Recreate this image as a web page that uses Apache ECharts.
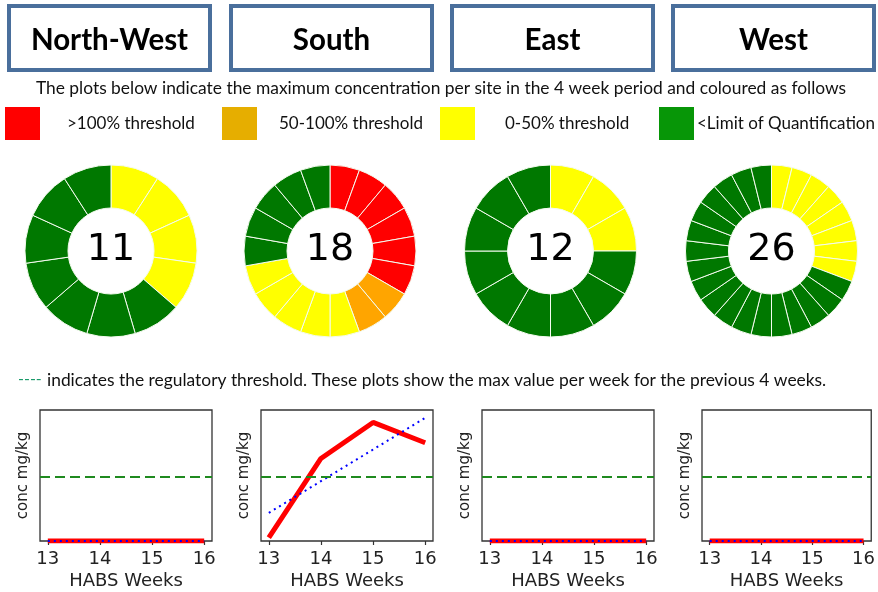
<!DOCTYPE html>
<html><head><meta charset="utf-8">
<script src="https://cdn.jsdelivr.net/npm/echarts@6/dist/echarts.min.js"></script>
<style>html,body{margin:0;padding:0;background:#fff}#c{width:878px;height:592px}</style>
</head><body><div id="c"></div>
<script>
// ---- data ----
const regions = ['North-West', 'South', 'East', 'West'];
const statusLabels = ['>100% threshold', '50-100% threshold', '0-50% threshold', '<Limit of Quantification'];
// site counts per status (red, orange, yellow, green)
const nwCounts = [0, 0, 4, 7];
const southCounts = [6, 2, 5, 5];
const eastCounts = [0, 0, 3, 9];
const westCounts = [0, 0, 8, 18];
const weeks = [13, 14, 15, 16];
const nwMax = [0, 0, 0, 0];
const southMax = [0.05, 1.26, 1.81, 1.50];
const eastMax = [0, 0, 0, 0];
const westMax = [0, 0, 0, 0];
const trendWeeks = [13, 16];
const nwTrend = [0, 0];
const southTrend = [0.43, 1.88];
const eastTrend = [0, 0];
const westTrend = [0, 0];
const threshold = 0.98;
const caption1 = 'The plots below indicate the maximum concentration per site in the 4 week period and coloured as follows';
const caption2 = 'indicates the regulatory threshold. These plots show the max value per week for the previous 4 weeks.';

// ---- styling ----
const legendColors = ['#ff0000', '#e6ae00', '#ffff00', '#079607'];
const donutColors = ['#ff0000', '#ffa500', '#ffff00', '#007800'];
const boxX = [9, 231, 452, 673];
const donutX = [111, 330, 550.5, 771.5];
const gridLeft = [40, 261, 482, 702];
const uiFont = 'Lato, "Open Sans", sans-serif';
const plotFont = '"DejaVu Sans", sans-serif';

const allCounts = [nwCounts, southCounts, eastCounts, westCounts];
const allMax = [nwMax, southMax, eastMax, westMax];
const allTrend = [nwTrend, southTrend, eastTrend, westTrend];

const chart = echarts.init(document.getElementById('c'), null, {renderer: 'canvas'});

const graphic = [];
regions.forEach((r, i) => {
  graphic.push({type: 'rect', shape: {x: boxX[i], y: 6, width: 201, height: 64},
    style: {fill: '#fff', stroke: '#4a6f9c', lineWidth: 4}});
  graphic.push({type: 'text', x: boxX[i] + 100.5, y: 40,
    style: {text: r, font: 'bold 29.5px ' + uiFont, fill: '#000', textAlign: 'center', textVerticalAlign: 'middle'}});
});
graphic.push({type: 'text', x: 441, y: 88,
  style: {text: caption1, font: '17.4px ' + uiFont, fill: '#111', textAlign: 'center', textVerticalAlign: 'middle'}});
const legSqX = [5, 222, 440, 659];
const legTxtX = [67, 279, 505, 697];
statusLabels.forEach((s, i) => {
  graphic.push({type: 'rect', shape: {x: legSqX[i], y: 107, width: 35, height: 33}, style: {fill: legendColors[i]}});
  graphic.push({type: 'text', x: legTxtX[i], y: 124,
    style: {text: s, font: '17px ' + uiFont, fill: '#111', textAlign: 'left', textVerticalAlign: 'middle'}});
});
graphic.push({type: 'text', x: 18, y: 379,
  style: {text: '----', font: '16px ' + uiFont, fill: '#1a9a6a', textAlign: 'left', textVerticalAlign: 'middle'}});
graphic.push({type: 'text', x: 47, y: 380,
  style: {text: caption2, font: '17.4px ' + uiFont, fill: '#111', textAlign: 'left', textVerticalAlign: 'middle'}});
allCounts.forEach((c, i) => {
  const total = c.reduce((a, b) => a + b, 0);
  graphic.push({type: 'text', x: donutX[i], y: 250, z: 10,
    style: {text: String(total), font: '38px ' + plotFont, fill: '#000', textAlign: 'center', textVerticalAlign: 'middle'}});
});

const series = [];
allCounts.forEach((c, i) => {
  const data = [];
  c.forEach((n, k) => { for (let j = 0; j < n; j++) data.push({value: 1, itemStyle: {color: donutColors[k]}}); });
  series.push({type: 'pie', center: [donutX[i], 251], radius: [43, 86], startAngle: 90, clockwise: true,
    silent: true, label: {show: false}, labelLine: {show: false},
    itemStyle: {borderColor: '#f4fbef', borderWidth: 1}, data: data});
});

const grids = [], xAxes = [], yAxes = [];
gridLeft.forEach((l, i) => {
  grids.push({left: l, top: 410, width: 172, height: 131, show: true, borderColor: '#333', borderWidth: 1.3, backgroundColor: 'transparent'});
  xAxes.push({gridIndex: i, type: 'value', min: 12.85, max: 16.15,
    name: 'HABS Weeks', nameLocation: 'middle', nameGap: 31,
    nameTextStyle: {fontFamily: plotFont, fontSize: 18, color: '#222'},
    axisLine: {show: false}, splitLine: {show: false},
    axisTick: {show: true, length: 4, customValues: weeks, lineStyle: {color: '#333', width: 1.2}},
    axisLabel: {customValues: weeks, fontFamily: plotFont, fontSize: 18, color: '#222', margin: 9}});
  yAxes.push({gridIndex: i, type: 'value', min: 0, max: 2,
    name: 'conc mg/kg', nameLocation: 'middle', nameGap: 9, nameRotate: 90,
    nameTextStyle: {fontFamily: plotFont, fontSize: 15, color: '#222'},
    axisLine: {show: false}, axisTick: {show: false}, axisLabel: {show: false}, splitLine: {show: false}});
  series.push({type: 'line', xAxisIndex: i, yAxisIndex: i, silent: true, symbol: 'none',
    data: [], markLine: {silent: true, symbol: 'none', label: {show: false},
      lineStyle: {color: '#1f8a1f', type: [10, 5], width: 2.2}, data: [{yAxis: threshold}]}});
  series.push({type: 'line', xAxisIndex: i, yAxisIndex: i, silent: true, symbol: 'none', clip: true,
    lineStyle: {color: '#ff0000', width: 5}, data: weeks.map((w, k) => [w, allMax[i][k]])});
  series.push({type: 'line', xAxisIndex: i, yAxisIndex: i, silent: true, symbol: 'none', clip: true,
    lineStyle: {color: '#0000ff', width: 2, type: [2, 4]}, data: trendWeeks.map((w, k) => [w, allTrend[i][k]]), z: 3});
});

chart.setOption({animation: false, backgroundColor: '#fff', graphic: graphic, grid: grids, xAxis: xAxes, yAxis: yAxes, series: series});
</script></body></html>
